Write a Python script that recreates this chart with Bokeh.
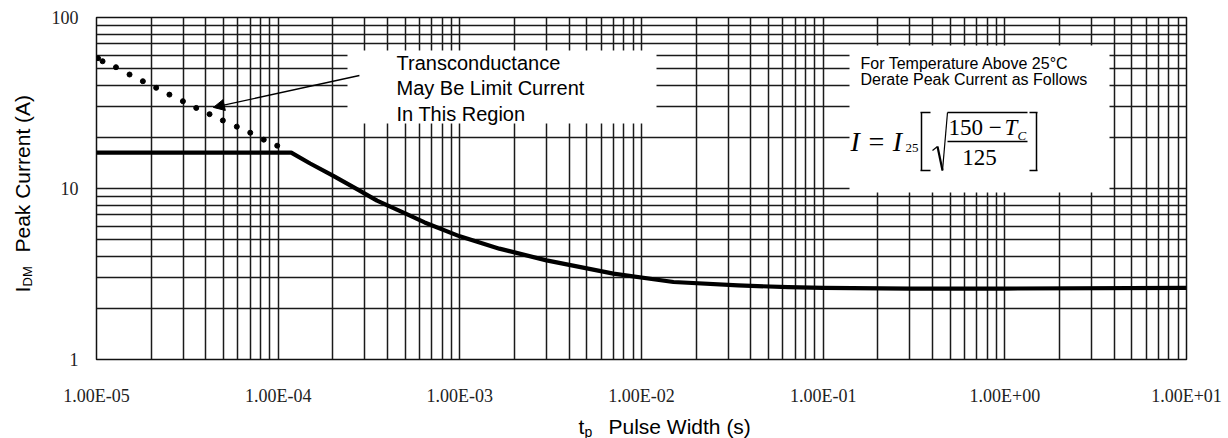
from bokeh.plotting import figure
from bokeh.layouts import row, column
from bokeh.models import (FixedTicker, CustomJSTickFormatter, Label, BoxAnnotation,
                          Arrow, NormalHead, Range1d)
from bokeh.embed import file_html
from bokeh.resources import INLINE

# Maximum peak drain current vs. pulse width (25 °C)
pulse_width = [1e-5, 1.18e-4, 1.5e-4, 2e-4, 2.7e-4, 3.5e-4, 5e-4, 6.4e-4, 1e-3,
               1.65e-3, 3e-3, 7e-3, 1.5e-2, 3.4e-2, 6.4e-2, 1e-1, 3e-1, 1.0, 10.0]
peak_current = [16.2, 16.2, 14.0, 11.9, 9.95, 8.5, 7.15, 6.33, 5.25,
                4.45, 3.8, 3.18, 2.84, 2.71, 2.65, 2.62, 2.6, 2.6, 2.62]

# Transconductance-limited region (dotted)
gm_pulse_width = [1.02e-5, 1.08e-5, 1.28e-5, 1.52e-5, 1.80e-5, 2.13e-5, 2.52e-5, 2.99e-5,
                  3.54e-5, 4.19e-5, 4.96e-5, 5.92e-5, 7.02e-5, 8.33e-5, 9.88e-5]
gm_current = [57.8, 55.5, 51.2, 46.4, 42.4, 38.8, 35.4, 32.4,
              29.6, 27.2, 25.0, 23.0, 21.2, 19.3, 17.8]

x_ticks = [1e-5, 1e-4, 1e-3, 1e-2, 1e-1, 1e0, 1e1]
y_ticks = [1, 10, 100]
x_grid = [m * 10.0 ** e for e in range(-5, 1) for m in range(1, 10)] + [10.0]
y_grid = [m * 10.0 ** e for e in range(0, 2) for m in range(1, 10)] + [100.0]

# page geometry (pixels)
W, H = 1228, 438
FL, FT, FW, FH = 92, 17, 1090, 342      # plot frame
LW = 48                                 # strip holding the y title
MH = 405                                # height of the upper row

SANS = "Liberation Sans"
SERIF = "Liberation Serif"


def blank(w, h):
    f = figure(title=None, frame_width=w, frame_height=h,
               x_range=Range1d(0, w), y_range=Range1d(0, h),
               x_axis_location=None, y_axis_location=None,
               min_border=0, min_border_left=0, min_border_right=0,
               min_border_top=0, min_border_bottom=0,
               toolbar_location=None, output_backend="svg")
    f.grid.visible = False
    f.outline_line_color = None
    f.background_fill_color = "white"
    f.border_fill_color = "white"
    return f


def put(fig, x, y, text, size, font=SANS, style="normal", align="left", angle=0.0):
    fig.add_layout(Label(x=x, y=y, x_units="screen", y_units="screen", text=text,
                         text_font=font, text_font_size=f"{size}px", text_font_style=style,
                         text_color="black", text_align=align, text_baseline="middle",
                         angle=angle))


p = figure(title=None, x_axis_type="log", y_axis_type="log",
           x_range=Range1d(1e-5, 10), y_range=Range1d(1, 100),
           frame_width=FW, frame_height=FH,
           min_border_left=FL - LW, min_border_top=FT,
           min_border_right=W - FL - FW, min_border_bottom=MH - FT - FH,
           toolbar_location=None, output_backend="svg")

p.background_fill_color = "white"
p.border_fill_color = "white"
p.outline_line_color = "#111111"
p.outline_line_width = 1.5

# axes
p.xaxis.ticker = FixedTicker(ticks=x_ticks, minor_ticks=[])
p.yaxis.ticker = FixedTicker(ticks=y_ticks, minor_ticks=[])
p.xaxis.formatter = CustomJSTickFormatter(code="""
    const s = tick.toExponential(2).split('e');
    const n = parseInt(s[1]);
    return s[0] + 'E' + (n < 0 ? '-' : '+') + String(Math.abs(n)).padStart(2, '0');
""")
p.yaxis.formatter = CustomJSTickFormatter(code="return tick.toFixed(0);")
for ax in (p.xaxis, p.yaxis):
    ax.axis_line_color = None
    ax.major_tick_line_color = None
    ax.minor_tick_line_color = None
    ax.major_label_text_font = SERIF
    ax.major_label_text_font_size = "18px"
    ax.major_label_text_color = "#222222"
p.xaxis.major_label_standoff = 20
p.yaxis.major_label_standoff = 12

# grid: every 1..9 x decade
p.xgrid.ticker = FixedTicker(ticks=x_grid, minor_ticks=[])
p.ygrid.ticker = FixedTicker(ticks=y_grid, minor_ticks=[])
for g in (p.xgrid, p.ygrid):
    g.grid_line_color = "#1a1a1a"
    g.grid_line_width = 1.5
    g.grid_line_alpha = 1.0
    g.minor_grid_line_color = None


def sx(px):
    """page x -> frame-relative screen x"""
    return px - FL


def sy(py):
    """page y (from top) -> frame-relative screen y (upwards)"""
    return FT + FH - py


# white panels behind the notes
for l, r, t, b in [(343, 652, 50, 123), (845, 1105, 45, 192)]:
    p.add_layout(BoxAnnotation(left=sx(l), right=sx(r), top=sy(t), bottom=sy(b),
                               left_units="screen", right_units="screen",
                               top_units="screen", bottom_units="screen",
                               fill_color="white", fill_alpha=1.0, line_color=None,
                               level="underlay"))

# curves
p.line(pulse_width, peak_current, line_color="black", line_width=4.2, line_join="round")
p.scatter(gm_pulse_width, gm_current, size=5, color="black")

# arrow pointing at the dotted region
p.add_layout(Arrow(end=NormalHead(size=11, fill_color="black", line_color="black"),
                   x_start=2.8e-4, y_start=45.8, x_end=4.4e-5, y_end=29.8,
                   line_color="black", line_width=1.3))


def note(px, py, text, size, font=SANS, style="normal", align="left"):
    put(p, sx(px), sy(py), text, size, font, style, align)


def stroke(x0, y0, x1, y1, w=1.5):
    p.add_layout(Arrow(end=None, x_start=sx(x0), y_start=sy(y0), x_end=sx(x1), y_end=sy(y1),
                       start_units="screen", end_units="screen",
                       line_color="black", line_width=w))


# region note
note(392, 62, "Transconductance", 20)
note(392, 87, "May Be Limit Current", 20)
note(392, 113, "In This Region", 20)

# derating note
note(856, 63, "For Temperature Above 25°C", 16)
note(856, 79, "Derate Peak Current as Follows", 16)

# derating formula  I = I25 [ sqrt((150 - Tc)/125) ]
note(846, 141, "I = I", 28, SERIF, "italic")
note(901, 147, "25", 13, SERIF)
stroke(917, 112, 917, 170)
stroke(916, 112, 926, 112)
stroke(916, 170, 926, 170)
stroke(928, 150, 933, 146, 1.2)
stroke(933, 146, 938, 170, 2.2)
stroke(938, 170, 943, 112, 1.2)
stroke(943, 112, 1023, 112, 1.3)
note(944, 127, "150 \u2212", 23, SERIF)
note(1000, 127, "T", 23, SERIF, "italic")
note(1013, 135, "C", 13, SERIF, "italic")
stroke(943, 141, 1023, 141, 1.3)
note(975, 157, "125", 23, SERIF, align="center")
stroke(1032, 112, 1032, 170)
stroke(1025, 112, 1033, 112)
stroke(1025, 170, 1033, 170)

# y title strip (page y measured from the top)
ytitle = blank(LW, MH)
put(ytitle, 22, MH - 275, "I", 21, angle=1.5708)
put(ytitle, 27, MH - 269, "DM", 13, angle=1.5708)
put(ytitle, 22, MH - 235, "Peak Current (A)", 21, angle=1.5708)

# x title strip
xtitle = blank(W, H - MH)
put(xtitle, 578, H - 423, "t", 21)
put(xtitle, 584, H - 428, "p", 14)
put(xtitle, 608, H - 423, "Pulse Width (s)", 21)

layout = column(row(ytitle, p), xtitle)
open("out.html", "w").write(file_html(layout, INLINE))
